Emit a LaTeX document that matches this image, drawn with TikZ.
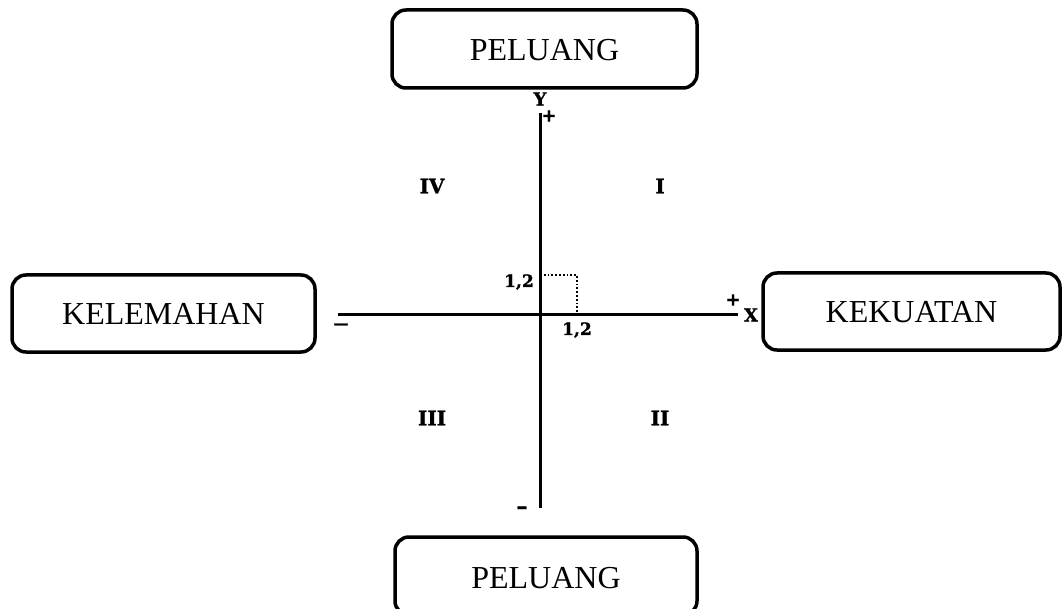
\documentclass[tikz,border=0pt]{standalone}
\usepackage{fontspec}
\setmainfont{Liberation Serif}
\newfontfamily\heavyfont[BoldFeatures={FakeBold=1.2}]{DejaVu Serif}
\begin{document}
\begin{tikzpicture}[x=1pt,y=-1pt,
  box/.style={draw,line width=3.5pt,rounded corners=14pt,inner sep=0pt},
  boxtext/.style={font=\fontsize{32}{36}\selectfont},
  axis/.style={line width=3pt},
  lbl/.style={font=\heavyfont\bfseries\fontsize{18}{20}\selectfont,inner sep=0pt},
  num/.style={font=\heavyfont\bfseries\fontsize{17}{19}\selectfont,inner sep=0pt},
  roman/.style={font=\heavyfont\bfseries\fontsize{20}{22}\selectfont,inner sep=0pt}]
\useasboundingbox (0,0) rectangle (1062,609);
\clip (0,0) rectangle (1062,609);
% boxes
\draw[box] (392,10) rectangle (697,88);
\node[boxtext] (top) at (544.5,50) {PELUANG};
\draw[box] (395,537) rectangle (697,615);
\node[boxtext] (bot) at (546,578) {PELUANG};
\draw[box] (12,275) rectangle (315,352);
\node[boxtext] (left) at (163.5,314) {KELEMAHAN};
\draw[box] (763,273) rectangle (1060,350);
\node[boxtext] (right) at (911.5,312) {KEKUATAN};
% axes
\coordinate (yt) at (540,113);
\coordinate (yb) at (540,508);
\coordinate (xl) at (338,315);
\coordinate (xr) at (738,315);
\draw[axis] (yt) -- (yb);
\draw[axis] (xl) -- (xr);
% dotted square
\draw[dotted,line width=1.8pt] (540,275) -- (577,275) -- (577,314);
% labels
\node[lbl] (Y) at (540,99) {Y};
\node[lbl] (yp) at (549,116) {+};
\node[lbl] (X) at (751,315) {X};
\node[lbl] (xp) at (733,300) {+};
\node[lbl,font=\heavyfont\bfseries\fontsize{15}{17}\selectfont] (xm) at (341,326) {\textemdash};
\node[lbl,font=\heavyfont\bfseries\fontsize{22}{24}\selectfont] (ym) at (522,510) {\textendash};
\node[num] (a) at (519,282) {1,2};
\node[num] (b) at (577,330) {1,2};
\node[roman] (q4) at (432,186) {IV};
\node[roman] (q1) at (660,186) {I};
\node[roman] (q3) at (432,418) {III};
\node[roman] (q2) at (660,418) {II};
\end{tikzpicture}
\end{document}
